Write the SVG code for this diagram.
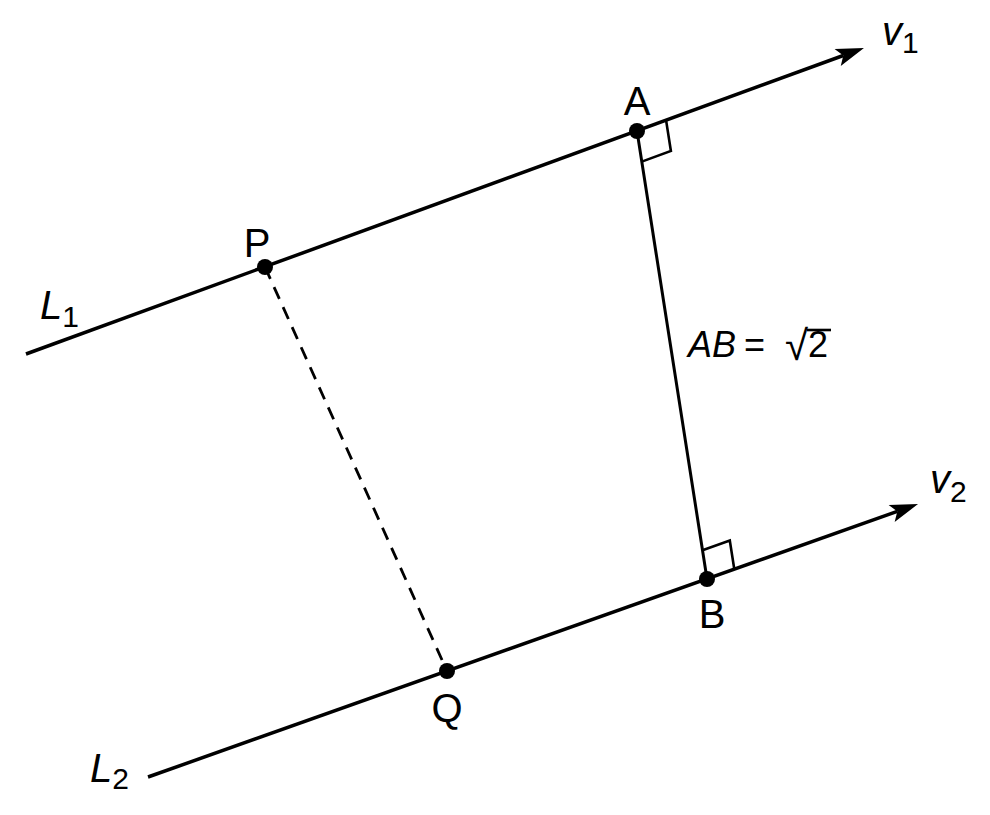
<svg xmlns="http://www.w3.org/2000/svg" width="990" height="815" viewBox="0 0 990 815">
<style>
.ln{stroke:#000;stroke-width:3.5;fill:none;stroke-linecap:butt}
.seg{stroke:#000;stroke-width:3;fill:none}
.dash{stroke:#000;stroke-width:2.8;fill:none;stroke-dasharray:13 9}
.ra{stroke:#000;stroke-width:2.6;fill:none}
.dot{fill:#000}
.lbl{font-family:"Liberation Sans",Arial,sans-serif;font-size:40px;fill:#000}
.eq{font-size:36px}
.it{font-style:italic}
.sub{font-size:30px}
</style>
<defs>
<marker id="arr" markerUnits="userSpaceOnUse" viewBox="-8 -10 32 20" markerWidth="32" markerHeight="20" refX="0" refY="0" orient="auto">
<path d="M22,0 L-6,-9 L0,0 L-6,9 z" fill="#000"/>
</marker>
</defs>
<rect width="990" height="815" fill="#fff"/>
<g id="connectors">
<line id="L1" class="ln" x1="26" y1="354" x2="843.3" y2="55.5" marker-end="url(#arr)"/>
<line id="L2" class="ln" x1="148" y1="777" x2="897.3" y2="511.4" marker-end="url(#arr)"/>
<line id="AB" class="seg" x1="637" y1="131" x2="707" y2="579"/>
<line id="PQ" class="dash" x1="265" y1="267" x2="447" y2="671"/>
<polyline class="ra" points="666.1,120.4 670.9,151.0 641.8,161.6"/>
<polyline class="ra" points="702.5,550.3 729.8,540.6 734.3,569.3"/>
</g>
<g id="node-A"><circle class="dot" cx="637" cy="131" r="8"/><text class="lbl" x="637" y="115" text-anchor="middle">A</text></g>
<g id="node-P"><circle class="dot" cx="265" cy="267" r="8"/><text class="lbl" x="257" y="257" text-anchor="middle">P</text></g>
<g id="node-B"><circle class="dot" cx="707" cy="579" r="8"/><text class="lbl" x="712" y="628" text-anchor="middle">B</text></g>
<g id="node-Q"><circle class="dot" cx="447" cy="671" r="8"/><text class="lbl" x="447" y="722" text-anchor="middle">Q</text></g>
<g id="label-L1"><text class="lbl" x="40" y="319"><tspan class="it">L</tspan><tspan class="sub" dy="8">1</tspan></text></g>
<g id="label-L2"><text class="lbl" x="90" y="782"><tspan class="it">L</tspan><tspan class="sub" dy="7">2</tspan></text></g>
<g id="label-v1"><text class="lbl" x="882" y="45"><tspan class="it">v</tspan><tspan class="sub" dy="8">1</tspan></text></g>
<g id="label-v2"><text class="lbl" x="930" y="493"><tspan class="it">v</tspan><tspan class="sub" dy="9">2</tspan></text></g>
<g id="label-AB">
<text class="lbl eq it" x="688" y="357">AB</text>
<text class="lbl eq" x="744" y="357">=</text>
<text class="lbl eq" x="785" y="357"><tspan style="font-size:42px" dy="3">√</tspan><tspan dy="-3">2</tspan></text>
<line x1="807" y1="330" x2="831" y2="330" stroke="#000" stroke-width="2.6"/>
</g>
</svg>
